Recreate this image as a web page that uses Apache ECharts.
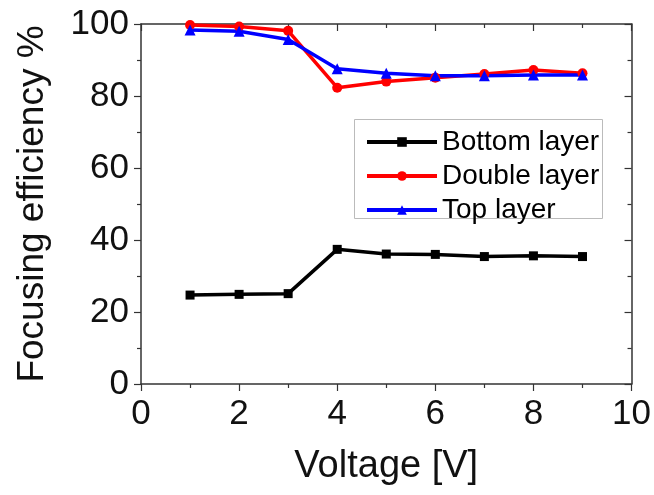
<!DOCTYPE html>
<html><head><meta charset="utf-8">
<script src="https://cdn.jsdelivr.net/npm/echarts@6/dist/echarts.min.js"></script>
<style>html,body{margin:0;padding:0;background:#fff}#c{width:654px;height:495px}</style>
</head><body><div id="c"></div>
<script>
var voltages = [1, 2, 3, 4, 5, 6, 7, 8, 9];
var bottomLayer = [24.7, 24.9, 25.1, 37.4, 36.1, 36.0, 35.4, 35.6, 35.4];
var doubleLayer = [99.7, 99.3, 98.1, 82.3, 84.0, 85.1, 86.1, 87.2, 86.3];
var topLayer = [98.3, 98.0, 95.7, 87.6, 86.3, 85.6, 85.6, 85.8, 85.8];
var seriesNames = ['Bottom layer', 'Double layer', 'Top layer'];

function pairs(v){ return voltages.map(function(x,i){return [x, v[i]];}); }
var font = 'Liberation Sans, Arial, sans-serif';
var axisLine = {show:true, onZero:false, lineStyle:{color:'#333', width:1.5}};
var tickOut = {inside:false, length:7, lineStyle:{color:'#333', width:1.2}};
var minorOut = {show:true, splitNumber:2, length:4, lineStyle:{color:'#333', width:1.2}};
var tickIn = {inside:true, length:7, lineStyle:{color:'#333', width:1.2}};
var minorIn = {show:true, splitNumber:2, length:4, lineStyle:{color:'#333', width:1.2}};
var chart = echarts.init(document.getElementById('c'));
chart.setOption({
  animation:false,
  backgroundColor:'#fff',
  grid:{left:141, right:22, top:24, bottom:111},
  graphic:[{type:'rect', shape:{x:354.5, y:119.5, width:248, height:99},
    style:{fill:'#fff', stroke:'#bbb', lineWidth:1}, z:5}],
  legend:{
    orient:'vertical', left:354, top:119, z:10,
    data:seriesNames,
    itemWidth:70, itemHeight:12, itemGap:6,
    borderWidth:0, padding:[9,8,0,11],
    lineStyle:{width:4},
    textStyle:{fontFamily:font, fontSize:28, color:'#000'}
  },
  xAxis:[{
    type:'value', min:0, max:10, interval:2,
    name:'Voltage [V]', nameLocation:'middle', nameGap:64,
    nameTextStyle:{fontFamily:font, fontSize:38, color:'#111'},
    axisLine:axisLine, axisTick:tickOut, minorTick:minorOut,
    axisLabel:{fontFamily:font, fontSize:35, color:'#111', margin:13},
    splitLine:{show:false}
  },{
    type:'value', min:0, max:10, interval:2, position:'top',
    axisLine:axisLine, axisTick:tickIn, minorTick:minorIn,
    axisLabel:{show:false}, splitLine:{show:false}
  }],
  yAxis:[{
    type:'value', min:0, max:100, interval:20,
    name:'Focusing efficiency %', nameLocation:'middle', nameGap:90,
    nameTextStyle:{fontFamily:font, fontSize:37, color:'#111'},
    axisLine:axisLine, axisTick:tickOut, minorTick:minorOut,
    axisLabel:{fontFamily:font, fontSize:35, color:'#111', margin:12},
    splitLine:{show:false}
  },{
    type:'value', min:0, max:100, interval:20, position:'right',
    axisLine:axisLine, axisTick:tickIn, minorTick:minorIn,
    axisLabel:{show:false}, splitLine:{show:false}
  }],
  series:[
    {name:seriesNames[0], type:'line', data:pairs(bottomLayer), symbol:'rect', symbolSize:9,
     lineStyle:{color:'#000', width:3.5}, itemStyle:{color:'#000'}},
    {name:seriesNames[1], type:'line', data:pairs(doubleLayer), symbol:'circle', symbolSize:10,
     lineStyle:{color:'#ff0000', width:3.5}, itemStyle:{color:'#ff0000'}},
    {name:seriesNames[2], type:'line', data:pairs(topLayer), symbol:'triangle', symbolSize:11,
     lineStyle:{color:'#0000ff', width:3.5}, itemStyle:{color:'#0000ff'}}
  ]
});
</script></body></html>
